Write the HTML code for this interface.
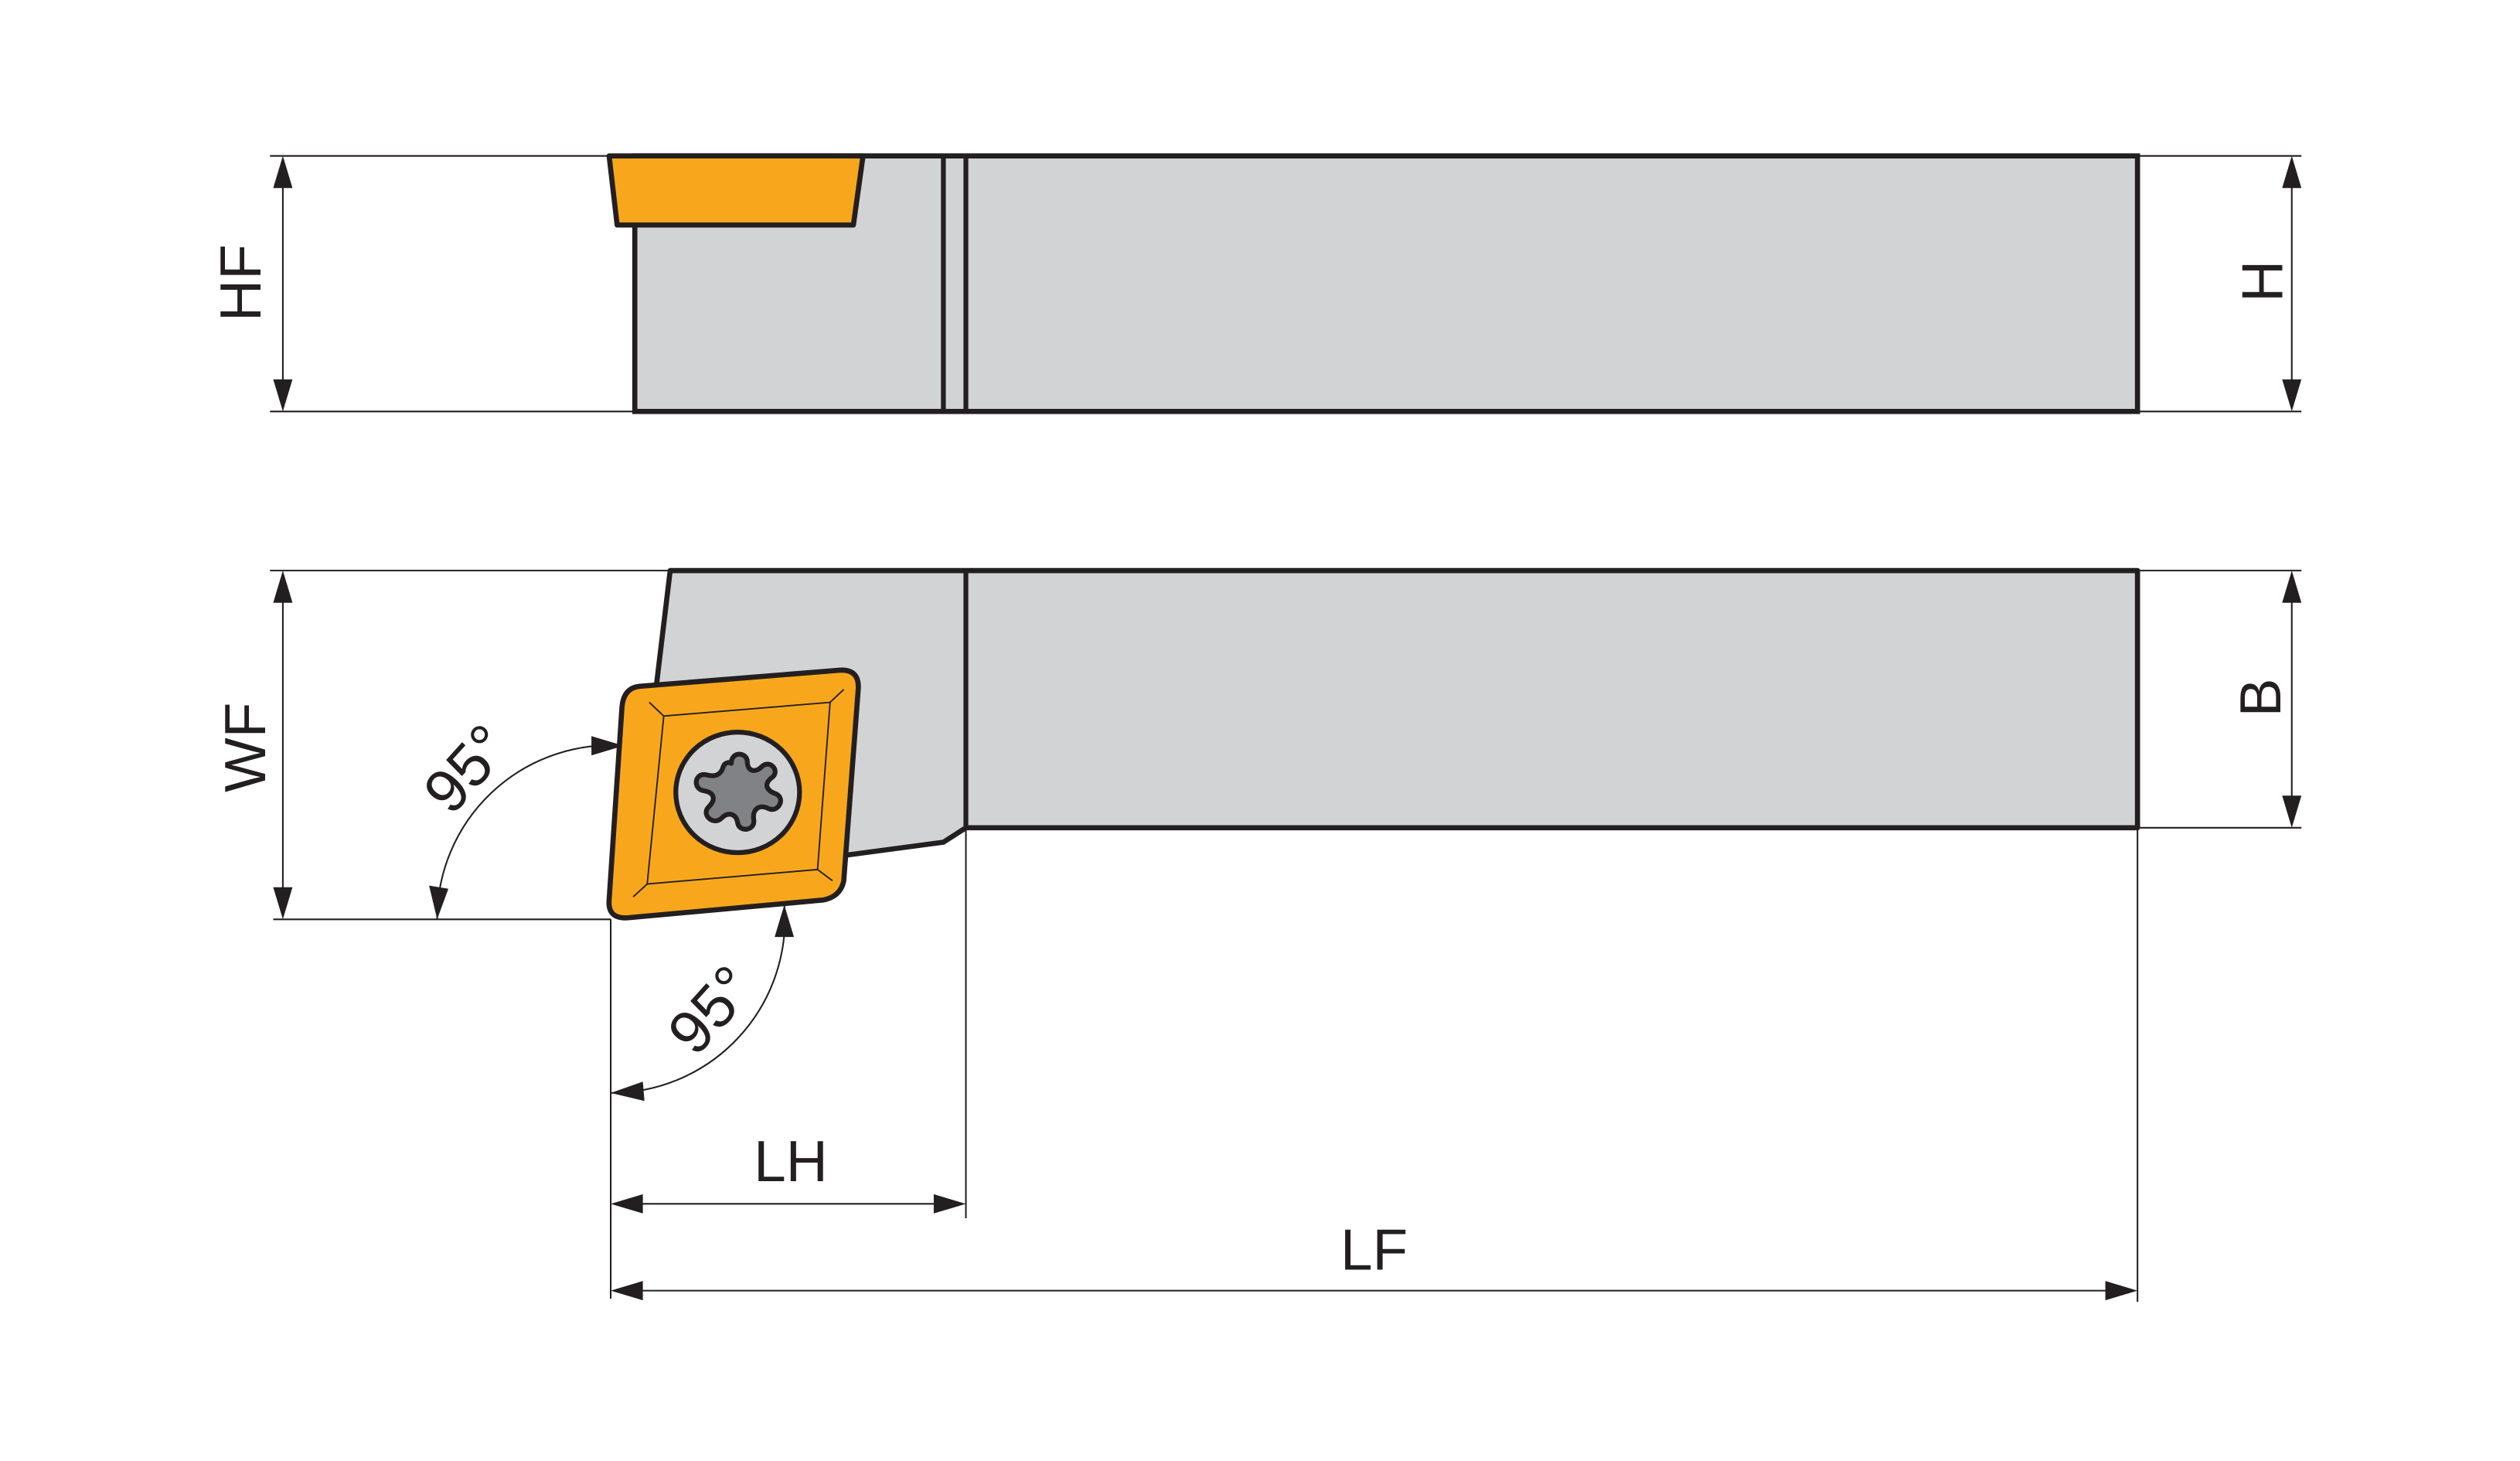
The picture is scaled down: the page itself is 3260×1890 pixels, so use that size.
<!DOCTYPE html>
<html><head><style>html,body{margin:0;padding:0;background:#fff}svg{display:block}</style></head>
<body>
<svg xmlns="http://www.w3.org/2000/svg" width="3260" height="1890" viewBox="0 0 1568 909" preserveAspectRatio="none">
<rect width="1568" height="909" fill="#fff"/>
<g stroke="#231f20" stroke-width="1" fill="none">
<line x1="168" y1="97" x2="379" y2="97"/>
<line x1="168" y1="256" x2="395" y2="256"/>
<line x1="176" y1="100" x2="176" y2="253"/>
<line x1="1330" y1="97" x2="1432" y2="97"/>
<line x1="1330" y1="256" x2="1432" y2="256"/>
<line x1="1426" y1="100" x2="1426" y2="253"/>
<line x1="168" y1="355" x2="417" y2="355"/>
<line x1="170" y1="572" x2="380" y2="572"/>
<line x1="176" y1="358" x2="176" y2="569"/>
<line x1="1330" y1="355" x2="1432" y2="355"/>
<line x1="1330" y1="515" x2="1432" y2="515"/>
<line x1="1426" y1="358" x2="1426" y2="512"/>
<line x1="380" y1="572" x2="380" y2="808"/>
<line x1="601" y1="515" x2="601" y2="758"/>
<line x1="1330" y1="515" x2="1330" y2="810"/>
<line x1="383" y1="749" x2="598" y2="749"/>
<line x1="383" y1="803" x2="1327" y2="803"/>
<path d="M272,572 A108,108 0 0 1 388,464"/>
<path d="M380,680 A108,108 0 0 0 488,563"/>
</g>
<g fill="#231f20">
<polygon points="176,97 170,117 182,117"/><polygon points="176,256 170,236 182,236"/>
<polygon points="1426,97 1420,117 1432,117"/><polygon points="1426,256 1420,236 1432,236"/>
<polygon points="176,355 170,375 182,375"/><polygon points="176,572 170,552 182,552"/>
<polygon points="1426,355 1420,375 1432,375"/><polygon points="1426,515 1420,495 1432,495"/>
<polygon points="380,749 400,743 400,755"/><polygon points="601,749 581,743 581,755"/>
<polygon points="380,803 400,797 400,809"/><polygon points="1330,803 1310,797 1310,809"/>
<polygon points="272,572 267,551 279,553"/>
<polygon points="388,464 368,458 368,470"/>
<polygon points="488,563 482,583 494,583"/>
<polygon points="380,680 400,673 401,685"/>
</g>
<rect x="395" y="97" width="935" height="159" fill="#d1d3d4" stroke="#231f20" stroke-width="3.2"/>
<line x1="587" y1="97" x2="587" y2="256" stroke="#231f20" stroke-width="3"/>
<line x1="601" y1="97" x2="601" y2="256" stroke="#231f20" stroke-width="3"/>
<polygon points="379,97 537,97 531,140 384,140" fill="#f8a71d" stroke="#231f20" stroke-width="3.2" stroke-linejoin="round"/>
<polygon points="417,355 1330,355 1330,515 601,515 587,524 527,532 400,545 408,430" fill="#d1d3d4" stroke="#231f20" stroke-width="3.2" stroke-linejoin="round"/>
<line x1="601" y1="355" x2="601" y2="515" stroke="#231f20" stroke-width="3"/>
<path d="M398,427 L522,417 Q535,416 534,429 L525,548 Q523,558 512,560 L391,571 Q378,572 379,560 L387,440 Q388,428 398,427 Z" fill="#f8a71d" stroke="#231f20" stroke-width="3.2" stroke-linejoin="round"/>
<g stroke="#231f20" stroke-width="0.9" fill="none">
<polygon points="413,445.5 516.5,437 508.7,541 402.7,550"/>
<line x1="413" y1="445.5" x2="404" y2="437"/>
<line x1="516.5" y1="437" x2="525" y2="429"/>
<line x1="508.7" y1="541" x2="518" y2="548"/>
<line x1="402.7" y1="550" x2="394" y2="558"/>
</g>
<ellipse cx="459" cy="493" rx="38.5" ry="37.5" fill="#d1d3d4" stroke="#231f20" stroke-width="3"/>
<path d="M455,475 C455,467 465,468 465,474 C465,480 470,481 474,477 C479,472 486,480 480,484 C475,488 477,492 483,494 C489,497 484,506 478,503 C472,500 468,504 469,510 C470,517 460,518 459,512 C458,506 453,505 449,509 C444,514 436,507 441,502 C446,497 444,493 438,492 C431,491 432,481 439,482 C446,484 449,481 450,477 C451,474 455,474 455,475 Z" fill="#808285" stroke="#231f20" stroke-width="3" stroke-linejoin="round"/>
<g font-family="Liberation Sans, sans-serif" fill="#231f20" font-size="36" text-anchor="middle">
<text transform="translate(162,176) rotate(-90)">HF</text>
<text transform="translate(165,465) rotate(-90)">WF</text>
<text transform="translate(1420,175) rotate(-90)">H</text>
<text transform="translate(1419,434) rotate(-90)">B</text>
<text x="492" y="735">LH</text>
<text x="855" y="790">LF</text>
<text transform="translate(300,487) rotate(-48)" font-size="38">95°</text>
<text transform="translate(452,637) rotate(-48)" font-size="38">95°</text>
</g>
</svg>
</body></html>
